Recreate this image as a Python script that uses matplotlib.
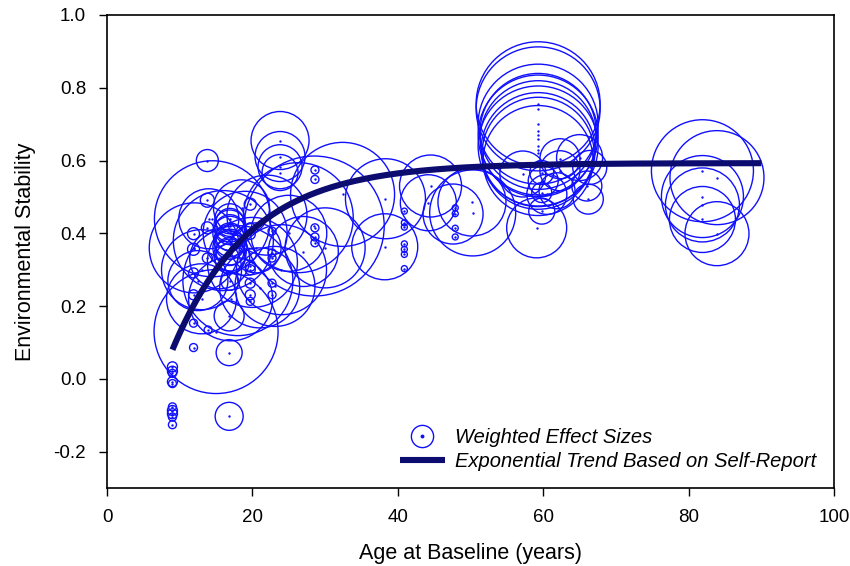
import numpy as np
import matplotlib

matplotlib.use("Agg")
import matplotlib.pyplot as plt
from matplotlib.lines import Line2D

plt.rcParams["font.family"] = ["Liberation Sans", "DejaVu Sans"]

# age at baseline, stability effect size, weight (drawn as bubble radius)
age = [
    9.0, 9.0, 9.0, 9.0, 9.0, 9.0, 9.0, 9.0, 9.0, 9.0,
    16.8, 16.8, 15.0, 11.9, 13.9, 11.9, 16.8, 13.8,
    23.8, 23.8, 23.8, 23.8,
    28.6, 28.6, 28.6, 28.6, 28.6,
    13.8, 19.7, 11.9, 13.8, 11.9, 13.8, 11.9, 11.9,
    16.9, 16.9, 16.9, 16.9, 16.9, 16.9, 16.9, 16.9, 16.9, 16.9, 16.9, 16.9,
    19.7, 19.7, 19.7, 19.7, 19.7, 19.7, 19.7, 19.7,
    22.7, 22.7, 22.7, 22.7, 22.7,
    16.9,
    14.5, 12.0, 13.0, 16.0, 18.0, 20.0, 19.0, 22.0, 17.0, 13.0,
    21.0, 25.0, 23.1, 26.3, 27.0, 12.5, 15.5, 20.5, 14.0, 18.5,
    28.5, 32.4, 38.3, 38.2, 24.0, 30.0,
    44.5, 44.2, 50.2, 47.6, 50.3,
    40.9, 40.9, 40.9, 40.9, 40.9, 40.9, 40.9,
    47.9, 47.9, 47.9, 47.9,
    59.3, 59.3, 59.3, 59.3, 59.3, 59.3, 59.3, 59.3, 59.3, 59.3,
    59.8, 59.1, 62.3, 65.0, 66.4, 66.0, 61.9, 60.0, 60.5, 57.2,
    62.3, 66.2, 59.8, 59.8,
    81.9, 83.9, 81.9, 81.9, 81.9, 83.9,
]
stability = [
    0.033, 0.021, 0.015, -0.008, -0.013, -0.077, -0.087, -0.096, -0.105, -0.126,
    -0.103, 0.072, 0.13, 0.153, 0.134, 0.086, 0.173, 0.600,
    0.655, 0.611, 0.583, 0.567,
    0.574, 0.548, 0.415, 0.390, 0.374,
    0.491, 0.480, 0.399, 0.415, 0.356, 0.332, 0.291, 0.231,
    0.440, 0.430, 0.420, 0.410, 0.400, 0.390, 0.380, 0.370, 0.360, 0.350, 0.340, 0.330,
    0.415, 0.397, 0.342, 0.309, 0.300, 0.263, 0.231, 0.213,
    0.406, 0.346, 0.332, 0.263, 0.231,
    0.268,
    0.44, 0.36, 0.30, 0.38, 0.27, 0.32, 0.40, 0.45, 0.22, 0.22,
    0.25, 0.40, 0.254, 0.443, 0.35, 0.27, 0.33, 0.36, 0.44, 0.47,
    0.42, 0.507, 0.495, 0.363, 0.30, 0.36,
    0.53, 0.484, 0.486, 0.453, 0.456,
    0.461, 0.429, 0.417, 0.371, 0.356, 0.342, 0.303,
    0.470, 0.454, 0.414, 0.390,
    0.756, 0.742, 0.700, 0.680, 0.670, 0.660, 0.640, 0.630, 0.620, 0.600,
    0.461, 0.415, 0.605, 0.608, 0.581, 0.530, 0.517, 0.544, 0.507, 0.563,
    0.572, 0.494, 0.567, 0.512,
    0.572, 0.553, 0.501, 0.478, 0.438, 0.399,
]
weight = [
    5, 5, 4, 5, 4, 4, 5, 5, 4, 4,
    14, 13, 62, 4, 4, 4, 15, 11,
    29, 25, 22, 18,
    4, 4, 4, 4, 4,
    7, 6, 6, 6, 6, 5, 5, 5,
    15, 14, 16, 15, 17, 14, 16, 15, 17, 14, 16, 15,
    5, 5, 6, 5, 5, 5, 5, 4,
    4, 4, 4, 4, 4,
    9,
    58, 45, 40, 50, 55, 45, 42, 40, 42, 35,
    40, 38, 40, 55, 35, 30, 30, 25, 30, 28,
    70, 52, 40, 33, 45, 40,
    31, 28, 34, 30, 43,
    3, 3, 3, 3, 3, 3, 3,
    3, 3, 3, 3,
    62, 62, 60, 58, 60, 58, 60, 57, 56, 55,
    13, 30, 20, 23, 17, 15, 18, 15, 20, 23,
    20, 15, 12, 10,
    51, 47, 41, 37, 33, 32,
]

# exponential trend fitted to self-report: y = asym - scale * exp(-rate * age)
trend_asym = 0.593
trend_scale = 1.19
trend_rate = 0.0935
trend_range = (9.0, 90.0)

BLUE = "#1010ff"
NAVY = "#0b0b70"

fig = plt.figure(figsize=(8.5, 5.66), dpi=100)
ax = fig.add_axes([0.1259, 0.1378, 0.8553, 0.8357])

age = np.array(age)
stability = np.array(stability)
weight = np.array(weight, dtype=float)
sizes = (2 * weight * 72 / fig.dpi) ** 2

ax.scatter(age, stability, s=sizes, facecolors="none", edgecolors=BLUE,
           linewidths=1.0, zorder=2)
ax.scatter(age, stability, s=3, color=BLUE, linewidths=0, zorder=2)

tx = np.linspace(trend_range[0], trend_range[1], 300)
ty = trend_asym - trend_scale * np.exp(-trend_rate * tx)
ax.plot(tx, ty, color=NAVY, lw=4.4, solid_capstyle="butt", zorder=3)

ax.set_xlim(0, 100)
ax.set_ylim(-0.3, 1.0)
ax.set_xticks([0, 20, 40, 60, 80, 100])
ax.set_yticks([-0.2, 0.0, 0.2, 0.4, 0.6, 0.8, 1.0])
ax.set_yticklabels(["-0.2", "0.0", "0.2", "0.4", "0.6", "0.8", "1.0"])
ax.tick_params(direction="out", length=6, width=1.0, labelsize=13.5, pad=9)
for sp in ax.spines.values():
    sp.set_linewidth(1.2)

ax.set_xlabel("Age at Baseline (years)", fontsize=15.5, labelpad=12)
ax.set_ylabel("Environmental Stability", fontsize=15.5, labelpad=13)

h_bubble = (
    Line2D([], [], ls="none", marker="o", markersize=16, markerfacecolor="none",
           markeredgecolor=BLUE, markeredgewidth=1.0),
    Line2D([], [], ls="none", marker="o", markersize=1.8, color=BLUE),
)
h_trend = Line2D([], [], color=NAVY, lw=4.4, solid_capstyle="butt")
leg = ax.legend([h_bubble, h_trend],
                ["Weighted Effect Sizes", "Exponential Trend Based on Self-Report"],
                loc="lower right", bbox_to_anchor=(1.0, -0.002), frameon=False,
                prop={"style": "italic", "size": 14.5}, handlelength=2.2,
                handletextpad=0.5, labelspacing=0.25)

fig.savefig("out.png", dpi=100)
